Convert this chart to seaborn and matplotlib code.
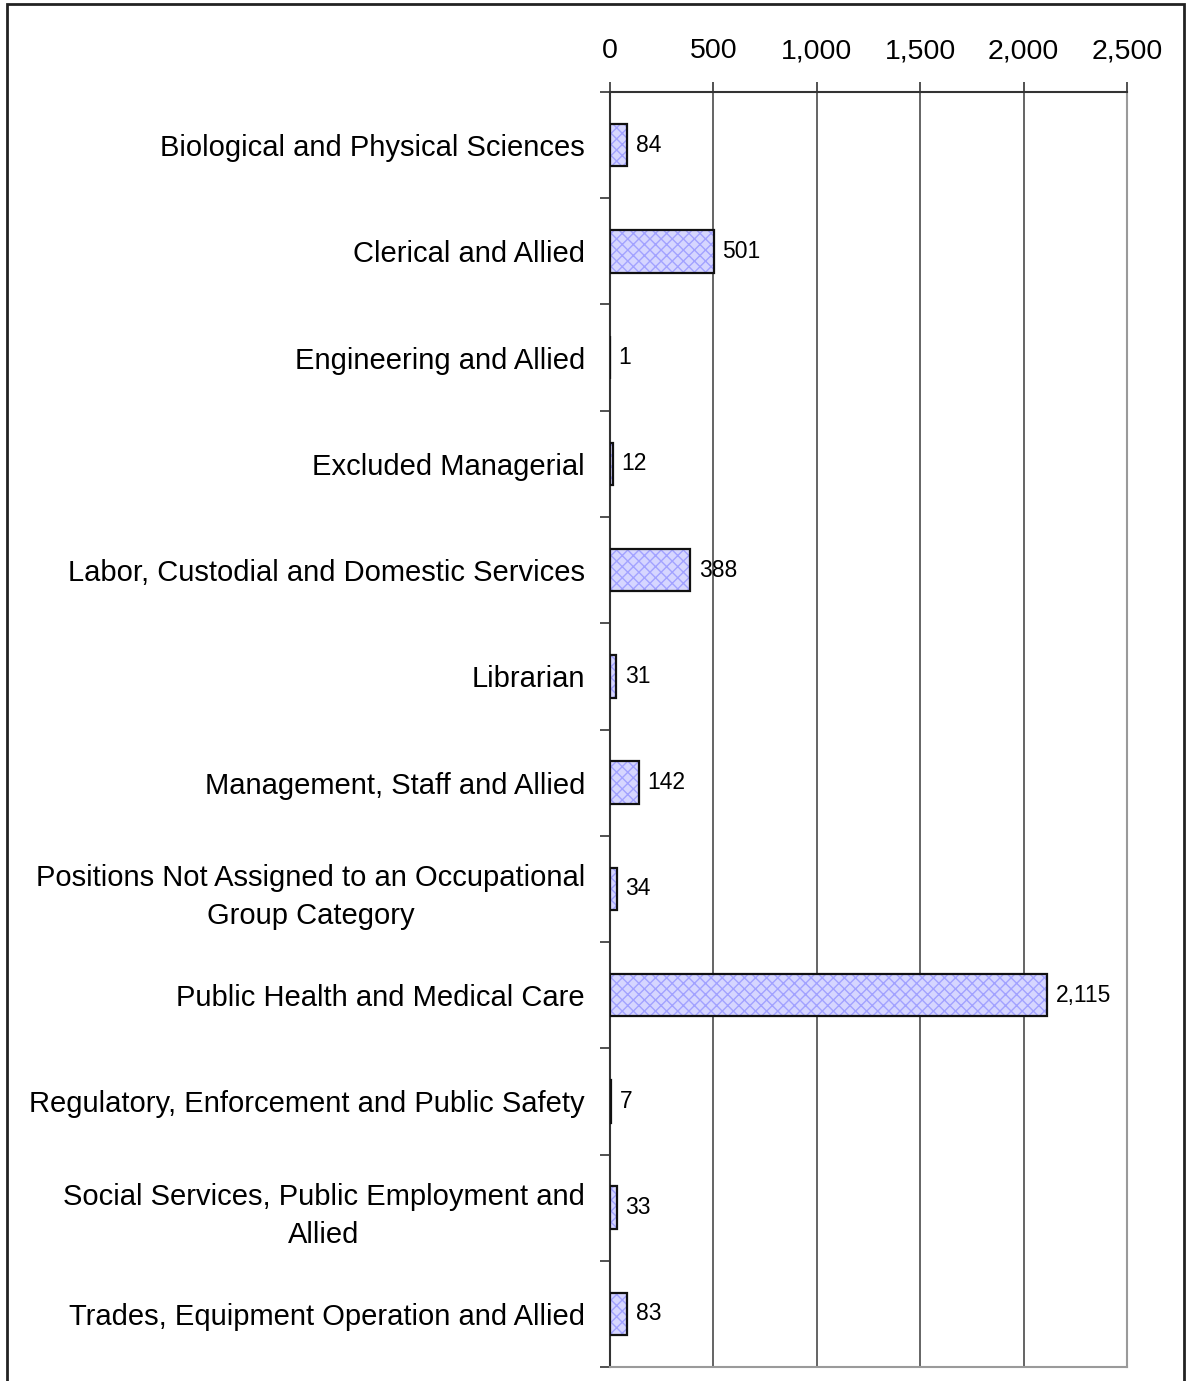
import numpy as np
import pandas as pd
import matplotlib
matplotlib.use("Agg")
import matplotlib.pyplot as plt
from matplotlib.patches import Rectangle
import seaborn as sns

# Employee counts by occupational group
groups = [
    "Biological and Physical Sciences",
    "Clerical and Allied",
    "Engineering and Allied",
    "Excluded Managerial",
    "Labor, Custodial and Domestic Services",
    "Librarian",
    "Management, Staff and Allied",
    "Positions Not Assigned to an Occupational\nGroup Category",
    "Public Health and Medical Care",
    "Regulatory, Enforcement and Public Safety",
    "Social Services, Public Employment and\nAllied",
    "Trades, Equipment Operation and Allied",
]
counts = [84, 501, 1, 12, 388, 31, 142, 34, 2115, 7, 33, 83]
x_ticks = [0, 500, 1000, 1500, 2000, 2500]
x_tick_labels = ["0", "500", "1,000", "1,500", "2,000", "2,500"]

df = pd.DataFrame({"group": groups, "count": counts})

sns.set_theme(style="white")
plt.rcParams["font.family"] = ["Liberation Sans", "DejaVu Sans"]

fig = plt.figure(figsize=(11.88, 13.81), dpi=100)
ax = fig.add_axes([0.5135, 0.0101, 0.4352, 0.9233])

sns.barplot(data=df, x="count", y="group", orient="h", color="#d6d6ff",
            saturation=1, width=0.4, ax=ax, zorder=3)

# Patterned fill with a dark outline drawn on top of each bar
for p in list(ax.patches):
    p.set_hatch("xxx")
    p.set_edgecolor("#a2a2ff")
    p.set_linewidth(0)
    outline = Rectangle(p.get_xy(), p.get_width(), p.get_height(),
                        fill=False, edgecolor="#111111", linewidth=1.6, zorder=4)
    ax.add_patch(outline)

# Value labels at the end of each bar
for i, v in enumerate(counts):
    ax.annotate(f"{v:,}", xy=(v, i), xytext=(6, 0), textcoords="offset points",
                ha="left", va="center", fontsize=16.5, color="black", zorder=5)

ax.set_xlim(0, 2500)
ax.set_ylim(len(groups) - 0.5, -0.5)
ax.set_xlabel("")
ax.set_ylabel("")

# Value axis across the top
ax.xaxis.tick_top()
ax.set_xticks(x_ticks)
ax.set_xticklabels(x_tick_labels, fontsize=20.5, color="black")
ax.tick_params(axis="x", which="major", direction="out", length=7, width=1.2,
               color="#333333", pad=13, top=True, bottom=False)

# Category labels with short ticks at the category boundaries
ax.set_yticks(range(len(groups)))
ax.set_yticklabels(groups, fontsize=21, color="black", multialignment="center",
                   linespacing=1.45)
ax.set_yticks(np.arange(-0.5, len(groups), 1), minor=True)
ax.tick_params(axis="y", which="major", length=0, pad=18)
ax.tick_params(axis="y", which="minor", direction="out", length=7, width=1.2,
               color="#333333", left=True)

ax.xaxis.grid(True, color="#4a4a4a", linewidth=1.2, zorder=0)
ax.yaxis.grid(False)
ax.set_axisbelow(True)

for side in ["left", "top"]:
    ax.spines[side].set_color("#333333")
    ax.spines[side].set_linewidth(1.5)
for side in ["right", "bottom"]:
    ax.spines[side].set_color("#9a9a9a")
    ax.spines[side].set_linewidth(1.5)

# Outer frame around the chart
frame = Rectangle((7 / 1188, -0.05), 1177 / 1188, 1.05 - 4 / 1381,
                  transform=fig.transFigure, fill=False, edgecolor="#222222",
                  linewidth=2, clip_on=False)
fig.patches.append(frame)

fig.savefig("out.png", dpi=100)
